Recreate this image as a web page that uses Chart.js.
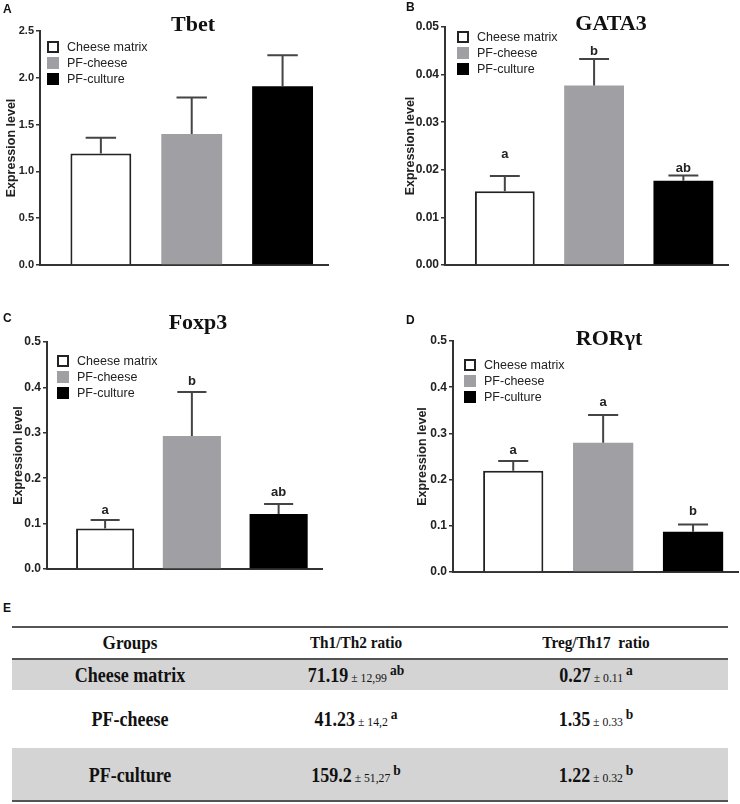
<!DOCTYPE html>
<html><head><meta charset="utf-8">
<script src="https://cdn.jsdelivr.net/npm/chart.js@4.4.1/dist/chart.umd.min.js"></script>
<style>
html,body{margin:0;padding:0;background:#fff;}
#page{position:relative;width:740px;height:804px;overflow:hidden;background:#fff;}
canvas{position:absolute;}
.plabel{position:absolute;font:bold 12px "Liberation Sans",Arial,sans-serif;color:#111;line-height:12px;}
.cell{position:absolute;width:300px;text-align:center;font-family:"Liberation Serif","Times New Roman",serif;color:#111;white-space:pre;line-height:24px;height:24px;transform:scaleX(0.9);transform-origin:50% 50%;}
.hline{position:absolute;left:12px;width:716px;height:2px;background:#555;}
.shade{position:absolute;left:12px;width:716px;background:#d4d4d4;}
.big{font-weight:bold;font-size:20px;}
.sd{font-weight:normal;font-size:13px;}
.sup{font-weight:bold;font-size:15px;position:relative;top:-7px;}
</style></head>
<body><div id="page">
<canvas id="cA" width="370" height="290" style="left:0;top:0;width:370px;height:290px"></canvas>
<canvas id="cB" width="370" height="290" style="left:370px;top:0;width:370px;height:290px"></canvas>
<canvas id="cC" width="370" height="300" style="left:0;top:290px;width:370px;height:300px"></canvas>
<canvas id="cD" width="370" height="300" style="left:370px;top:290px;width:370px;height:300px"></canvas>
<div class="plabel" style="left:3px;top:3px">A</div>
<div class="plabel" style="left:406px;top:1px">B</div>
<div class="plabel" style="left:3px;top:312px">C</div>
<div class="plabel" style="left:406px;top:314px">D</div>
<div class="plabel" style="left:3px;top:602px">E</div>
<div id="table"></div>
</div>
<script>
// ---------- data ----------
const groups = ['Cheese matrix', 'PF-cheese', 'PF-culture'];

const tbetMean = [1.19, 1.40, 1.91];
const tbetErr  = [0.17, 0.39, 0.33];

const gata3Mean = [0.0155, 0.0377, 0.0177];
const gata3Err  = [0.0032, 0.0056, 0.0011];
const gata3Sig  = ['a', 'b', 'ab'];

const foxp3Mean = [0.089, 0.293, 0.121];
const foxp3Err  = [0.019, 0.097, 0.022];
const foxp3Sig  = ['a', 'b', 'ab'];

const rorMean = [0.219, 0.280, 0.087];
const rorErr  = [0.021, 0.060, 0.016];
const rorSig  = ['a', 'a', 'b'];

const tbetTicks  = [0.0, 0.5, 1.0, 1.5, 2.0, 2.5];
const gata3Ticks = [0.00, 0.01, 0.02, 0.03, 0.04, 0.05];
const foxp3Ticks = [0.0, 0.1, 0.2, 0.3, 0.4, 0.5];
const rorTicks   = [0.0, 0.1, 0.2, 0.3, 0.4, 0.5];

// table E
const tableHeaders = ['Groups', 'Th1/Th2 ratio', 'Treg/Th17  ratio'];
const th1th2Mean = ['71.19', '41.23', '159.2'];
const th1th2Sd   = ['12,99', '14,2', '51,27'];
const th1th2Sig  = ['ab', 'a', 'b'];
const tregMean = ['0.27', '1.35', '1.22'];
const tregSd   = ['0.11', '0.33', '0.32'];
const tregSig  = ['a', 'b', 'b'];

// ---------- styles ----------
const barFill   = ['#ffffff', '#a0a0a4', '#000000'];
const barBorder = ['#222222', '#a0a0a4', '#000000'];
const barBorderW = [2, 0, 0];

const decor = {
  id: 'panelDecor',
  afterDatasetsDraw(chart, args, o) {
    const ctx = chart.ctx;
    const ys = chart.scales.y;
    const meta = chart.getDatasetMeta(0);
    const ds = chart.data.datasets[0];
    ctx.save();
    // error bars
    ctx.strokeStyle = '#444';
    ctx.lineWidth = 2;
    meta.data.forEach((bar, i) => {
      const yb = ys.getPixelForValue(o.mean[i]);
      const yt = ys.getPixelForValue(o.mean[i] + o.err[i]);
      const half = bar.width / 4;
      ctx.beginPath();
      ctx.moveTo(bar.x, yb);
      ctx.lineTo(bar.x, yt);
      ctx.moveTo(bar.x - half, yt);
      ctx.lineTo(bar.x + half, yt);
      ctx.stroke();
      if (o.sig) {
        ctx.fillStyle = '#222';
        ctx.font = 'bold 13px "Liberation Sans", Arial, sans-serif';
        ctx.textAlign = 'center';
        ctx.textBaseline = 'middle';
        ctx.fillText(o.sig[i], bar.x, yt - o.sigGap[i]);
      }
    });
    // title
    ctx.fillStyle = '#111';
    ctx.font = 'bold 22px "Liberation Serif", "Times New Roman", serif';
    ctx.textAlign = 'center';
    ctx.textBaseline = 'middle';
    ctx.fillText(o.title, o.titleX, o.titleY);
    // legend
    ctx.font = '12.5px "Liberation Sans", Arial, sans-serif';
    ctx.textAlign = 'left';
    ctx.textBaseline = 'middle';
    chart.data.labels.forEach((lab, i) => {
      const cy = o.legY + i * 16;
      const bx = o.legX;
      ctx.fillStyle = ds.backgroundColor[i];
      ctx.fillRect(bx, cy - 6, 12, 12);
      if (ds.borderWidth[i] > 0) {
        ctx.strokeStyle = ds.borderColor[i];
        ctx.lineWidth = 2;
        ctx.strokeRect(bx + 1, cy - 5, 10, 10);
      }
      ctx.fillStyle = '#222';
      ctx.fillText(lab, bx + 20, cy + 0.5);
    });
    ctx.restore();
  }
};

function makeChart(id, canvasRect, area, YW, mean, err, ticks, decimals, tickFont, extra) {
  const pad = {
    left: area.l - canvasRect.x - YW,
    right: canvasRect.x + canvasRect.w - area.r,
    top: area.t - canvasRect.y,
    bottom: canvasRect.y + canvasRect.h - area.b
  };
  return new Chart(document.getElementById(id), {
    type: 'bar',
    data: {
      labels: groups,
      datasets: [{
        data: groups.map((g, i) => ({ x: i, y: mean[i] })),
        backgroundColor: barFill,
        borderColor: barBorder,
        borderWidth: barBorderW,
        borderSkipped: 'start',
        barPercentage: 0.67,
        categoryPercentage: 1.0
      }]
    },
    options: {
      responsive: false,
      animation: false,
      devicePixelRatio: 1,
      layout: { padding: pad },
      plugins: {
        legend: { display: false },
        tooltip: { enabled: false },
        panelDecor: Object.assign({ mean, err }, extra)
      },
      scales: {
        x: {
          type: 'linear',
          offset: false,
          min: -0.67,
          max: 2.5,
          afterBuildTicks: s => { s.ticks = groups.map((g, i) => ({ value: i })); },
          grid: { display: false },
          ticks: { display: false },
          border: { display: true, color: '#333', width: 2 },
          afterFit: s => { s.height = 0; }
        },
        y: {
          min: ticks[0],
          max: ticks[ticks.length - 1],
          afterBuildTicks: s => { s.ticks = ticks.map(v => ({ value: v })); },
          afterFit: s => { s.width = YW; },
          grid: { display: true, drawOnChartArea: false, drawTicks: true, tickLength: 4, color: '#333', lineWidth: 1.5 },
          border: { display: true, color: '#333', width: 2 },
          ticks: {
            padding: 2,
            color: '#222',
            font: { family: '"Liberation Sans", Arial, sans-serif', weight: 'bold', size: tickFont },
            callback: v => Number(v).toFixed(decimals)
          },
          title: {
            display: true,
            text: 'Expression level',
            color: '#222',
            padding: { top: 0, bottom: 0 },
            font: { family: '"Liberation Sans", Arial, sans-serif', weight: 'bold', size: 12.5 }
          }
        }
      }
    },
    plugins: [decor]
  });
}

makeChart('cA', { x: 0, y: 0, w: 370, h: 290 }, { l: 40, r: 328, t: 31, b: 265 }, 36,
  tbetMean, tbetErr, tbetTicks, 1, 11,
  { title: 'Tbet', titleX: 193, titleY: 25, legX: 47, legY: 47 });

makeChart('cB', { x: 370, y: 0, w: 370, h: 290 }, { l: 445, r: 728, t: 27, b: 265 }, 42,
  gata3Mean, gata3Err, gata3Ticks, 2, 12,
  { title: 'GATA3', titleX: 241, titleY: 24, legX: 87, legY: 37, sig: gata3Sig, sigGap: [22, 7, 7] });

makeChart('cC', { x: 0, y: 290, w: 370, h: 300 }, { l: 47, r: 322, t: 342, b: 569 }, 36,
  foxp3Mean, foxp3Err, foxp3Ticks, 1, 12,
  { title: 'Foxp3', titleX: 198, titleY: 33, legX: 57, legY: 71, sig: foxp3Sig, sigGap: [10, 11, 12] });

makeChart('cD', { x: 370, y: 290, w: 370, h: 300 }, { l: 453, r: 738, t: 341, b: 572 }, 38,
  rorMean, rorErr, rorTicks, 1, 12,
  { title: 'ROR\u03b3t', titleX: 239, titleY: 49, legX: 94, legY: 75, sig: rorSig, sigGap: [11, 12, 13] });

// ---------- table E ----------
(function () {
  const t = document.getElementById('table');
  let html = '';
  html += '<div class="hline" style="top:626px"></div>';
  html += '<div class="hline" style="top:658px"></div>';
  html += '<div class="shade" style="top:660px;height:30px"></div>';
  html += '<div class="shade" style="top:748px;height:52px"></div>';
  html += '<div class="hline" style="top:800px"></div>';
  const colX = [130, 356, 596];
  const headSize = [19, 17, 17];
  const rowY = [675, 719, 775];
  tableHeaders.forEach((h, c) => {
    html += `<div class="cell" style="left:${colX[c] - 150}px;top:${643 - 12}px;font-weight:bold;font-size:${headSize[c]}px">${h}</div>`;
  });
  groups.forEach((g, r) => {
    const top = rowY[r] - 12;
    html += `<div class="cell big" style="left:${colX[0] - 150}px;top:${top}px">${g}</div>`;
    html += `<div class="cell" style="left:${colX[1] - 150}px;top:${top}px"><span class="big">${th1th2Mean[r]}</span><span class="sd"> \u00b1 ${th1th2Sd[r]} </span><span class="sup">${th1th2Sig[r]}</span></div>`;
    html += `<div class="cell" style="left:${colX[2] - 150}px;top:${top}px"><span class="big">${tregMean[r]}</span><span class="sd"> \u00b1 ${tregSd[r]} </span><span class="sup">${tregSig[r]}</span></div>`;
  });
  t.innerHTML = html;
})();
</script>
</body></html>
